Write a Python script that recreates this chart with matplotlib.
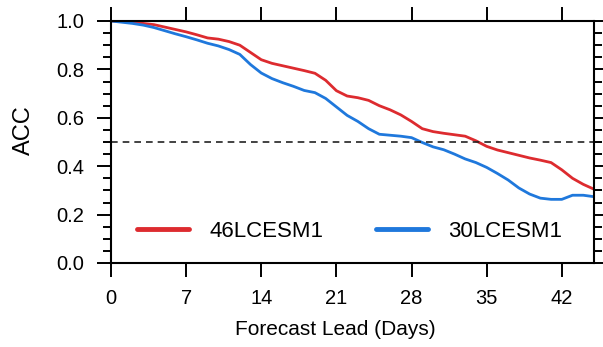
import matplotlib
matplotlib.use("Agg")
import matplotlib.pyplot as plt
from matplotlib.lines import Line2D
from matplotlib.ticker import MultipleLocator

days = list(range(0, 46))
acc_46 = [1.00, 0.998, 0.995, 0.99, 0.985, 0.975, 0.965, 0.955, 0.943, 0.93,
          0.925, 0.915, 0.90, 0.87, 0.84, 0.825, 0.815, 0.805, 0.795, 0.784,
          0.755, 0.712, 0.69, 0.683, 0.672, 0.65, 0.633, 0.612, 0.585, 0.555,
          0.543, 0.536, 0.53, 0.524, 0.505, 0.482, 0.467, 0.456, 0.445, 0.434,
          0.425, 0.415, 0.385, 0.35, 0.325, 0.305]
acc_30 = [1.00, 0.995, 0.99, 0.983, 0.973, 0.96, 0.947, 0.935, 0.922, 0.908,
          0.897, 0.882, 0.862, 0.82, 0.785, 0.762, 0.745, 0.73, 0.713, 0.704,
          0.68, 0.645, 0.61, 0.585, 0.555, 0.532, 0.528, 0.524, 0.518, 0.498,
          0.48, 0.468, 0.45, 0.43, 0.415, 0.395, 0.37, 0.343, 0.31, 0.285,
          0.268, 0.263, 0.263, 0.28, 0.28, 0.274]
labels = ["46LCESM1", "30LCESM1"]
colors = ["#dd2b2f", "#1f78dc"]
xticks = [0, 7, 14, 21, 28, 35, 42]
threshold = 0.5

plt.rcParams['font.family'] = ['Liberation Sans', 'DejaVu Sans']

fig = plt.figure(figsize=(6.03, 3.47), dpi=100)
ax = fig.add_axes([111/603, (347-263)/347, 483/603, 242/347])

ax.plot(days, acc_46, color=colors[0], lw=2.0, solid_capstyle='round')
ax.plot(days, acc_30, color=colors[1], lw=2.0, solid_capstyle='round')
ax.axhline(threshold, color='#222222', lw=1.2, ls=(0, (4, 3)))

ax.set_xlim(0, 45)
ax.set_ylim(0, 1.0)
ax.set_xticks(xticks)
ax.yaxis.set_major_locator(MultipleLocator(0.2))
ax.yaxis.set_minor_locator(MultipleLocator(0.05))
ax.yaxis.set_major_formatter(matplotlib.ticker.FormatStrFormatter('%.1f'))

for s in ax.spines.values():
    s.set_linewidth(1.5)
ax.tick_params(which='both', direction='out', top=True, right=True, width=1.4,
               labelsize=14.5, colors='black')
ax.tick_params(which='major', length=10, pad=9)
ax.tick_params(which='minor', length=5.5)
ax.tick_params(axis='x', which='minor', top=False, bottom=False)

ax.set_ylabel("ACC", fontsize=17)
ax.yaxis.set_label_coords(-0.157, 0.55)
ax.set_xlabel("Forecast Lead (Days)", fontsize=15)
ax.xaxis.set_label_coords(0.465, -0.235)

handles = [Line2D([], [], color=colors[0], lw=3.5, solid_capstyle='round'),
           Line2D([], [], color=colors[1], lw=3.5, solid_capstyle='round')]
leg = ax.legend(handles, labels, ncol=2, frameon=False, fontsize=16,
                loc='center left', bbox_to_anchor=(0.054, 0.132),
                borderpad=0, borderaxespad=0, handlelength=2.35,
                handletextpad=0.9, columnspacing=2.35)

fig.savefig("out.png", dpi=100)
